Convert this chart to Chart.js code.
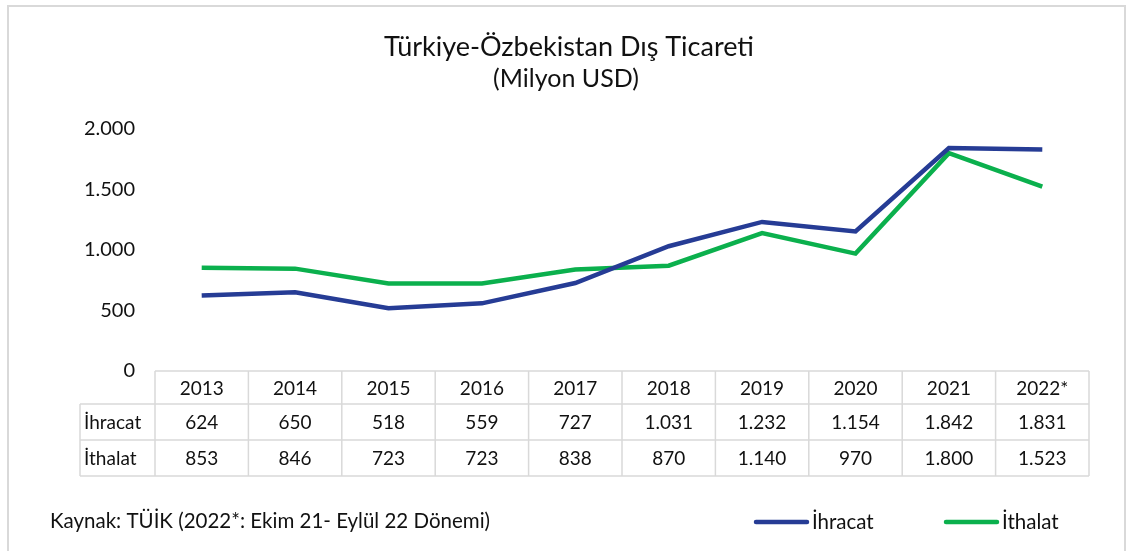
<!DOCTYPE html>
<html>
<head>
<meta charset="utf-8">
<script src="https://cdn.jsdelivr.net/npm/chart.js@4.4.1/dist/chart.umd.min.js"></script>
<style>
  html, body { margin: 0; padding: 0; background: #fff; }
  #wrap { width: 1140px; height: 551px; position: relative; }
</style>
</head>
<body>
<div id="wrap"><canvas id="tradeChart"></canvas></div>
<script>
// data
const years = ['2013', '2014', '2015', '2016', '2017', '2018', '2019', '2020', '2021', '2022*'];
const ihracat = [624, 650, 518, 559, 727, 1031, 1232, 1154, 1842, 1831];
const ithalat = [853, 846, 723, 723, 838, 870, 1140, 970, 1800, 1523];
const yTicks = [0, 500, 1000, 1500, 2000];

const seriesNames = ['İhracat', 'İthalat'];
const titleText = 'Türkiye-Özbekistan Dış Ticareti';
const subtitleText = '(Milyon USD)';
const sourceText = 'Kaynak: TÜİK (2022*: Ekim 21- Eylül 22 Dönemi)';

const BLUE = '#263c95';
const GREEN = '#0bb04d';
const TEXT = '#111111';
const FONT = 'Lato, "Open Sans", sans-serif';

function trNum(v) {
    return String(v).replace(/\B(?=(\d{3})+(?!\d))/g, '.');
}

// draws frame, titles, data table, footer and legend
const extrasPlugin = {
    id: 'extras',
    afterDraw(chart) {
        const ctx = chart.ctx;
        const x = chart.scales.x;
        const area = chart.chartArea;
        ctx.save();

        // outer frame
        ctx.strokeStyle = '#d9d9d9';
        ctx.lineWidth = 2;
        ctx.strokeRect(8, 6, 1117, 560);

        // titles
        ctx.fillStyle = TEXT;
        ctx.textAlign = 'center';
        ctx.textBaseline = 'middle';
        ctx.font = '27px ' + FONT;
        ctx.fillText(titleText, 569, 47);
        ctx.font = '25px ' + FONT;
        ctx.fillText(subtitleText, 566, 79);

        // data table
        const step = x.getPixelForValue(1) - x.getPixelForValue(0);
        const left = x.getPixelForValue(0) - step / 2;
        const right = x.getPixelForValue(years.length - 1) + step / 2;
        const labelLeft = 80;
        const rows = [area.bottom, area.bottom + 33, area.bottom + 69, area.bottom + 105];

        ctx.strokeStyle = '#d9d9d9';
        ctx.lineWidth = 1.5;
        ctx.beginPath();
        ctx.moveTo(left, rows[0]); ctx.lineTo(right, rows[0]);
        for (let r = 1; r < rows.length; r++) {
            ctx.moveTo(labelLeft, rows[r]); ctx.lineTo(right, rows[r]);
        }
        ctx.moveTo(labelLeft, rows[1]); ctx.lineTo(labelLeft, rows[3]);
        for (let i = 0; i <= years.length; i++) {
            const cx = left + i * step;
            ctx.moveTo(cx, rows[0]); ctx.lineTo(cx, rows[3]);
        }
        ctx.stroke();

        ctx.fillStyle = TEXT;
        ctx.font = '19px ' + FONT;
        ctx.textAlign = 'center';
        const tableRows = [years, ihracat.map(trNum), ithalat.map(trNum)];
        tableRows.forEach(function(row, r) {
            const cy = (rows[r] + rows[r + 1]) / 2 + 1;
            row.forEach(function(val, i) {
                ctx.fillText(val, x.getPixelForValue(i), cy);
            });
        });
        ctx.textAlign = 'left';
        seriesNames.forEach(function(name, r) {
            ctx.fillText(name, labelLeft + 4, (rows[r + 1] + rows[r + 2]) / 2 + 1);
        });

        // footer
        ctx.font = '20.5px ' + FONT;
        ctx.fillText(sourceText, 50, 521);

        // legend
        const legendItems = [
            { x: 756, color: BLUE, name: seriesNames[0] },
            { x: 946, color: GREEN, name: seriesNames[1] }
        ];
        legendItems.forEach(function(item) {
            ctx.strokeStyle = item.color;
            ctx.lineWidth = 4.5;
            ctx.lineCap = 'round';
            ctx.beginPath();
            ctx.moveTo(item.x, 522); ctx.lineTo(item.x + 51, 522);
            ctx.stroke();
            ctx.fillText(item.name, item.x + 56, 522);
        });

        ctx.restore();
    }
};

new Chart(document.getElementById('tradeChart'), {
    type: 'line',
    data: {
        labels: years,
        datasets: [
            {
                label: seriesNames[0],
                data: ihracat,
                borderColor: BLUE,
                backgroundColor: BLUE,
                borderWidth: 4.5,
                pointRadius: 0,
                tension: 0
            },
            {
                label: seriesNames[1],
                data: ithalat,
                borderColor: GREEN,
                backgroundColor: GREEN,
                borderWidth: 4.5,
                pointRadius: 0,
                tension: 0
            }
        ]
    },
    options: {
        responsive: true,
        maintainAspectRatio: false,
        animation: false,
        layout: {
            padding: { left: 0, right: 51, top: 129, bottom: 180 }
        },
        plugins: {
            legend: { display: false },
            title: { display: false },
            tooltip: { enabled: false }
        },
        scales: {
            x: {
                offset: true,
                grid: { display: false, drawTicks: false },
                border: { display: false },
                ticks: { display: false }
            },
            y: {
                min: 0,
                max: 2000,
                afterFit(scale) { scale.width = 155; },
                afterBuildTicks(scale) {
                    scale.ticks = yTicks.map(v => ({ value: v }));
                },
                grid: { display: false, drawTicks: false },
                border: { display: false },
                ticks: {
                    padding: 20,
                    color: TEXT,
                    font: { family: FONT, size: 20 },
                    callback: v => trNum(v)
                }
            }
        }
    },
    plugins: [extrasPlugin]
});
</script>
</body>
</html>
